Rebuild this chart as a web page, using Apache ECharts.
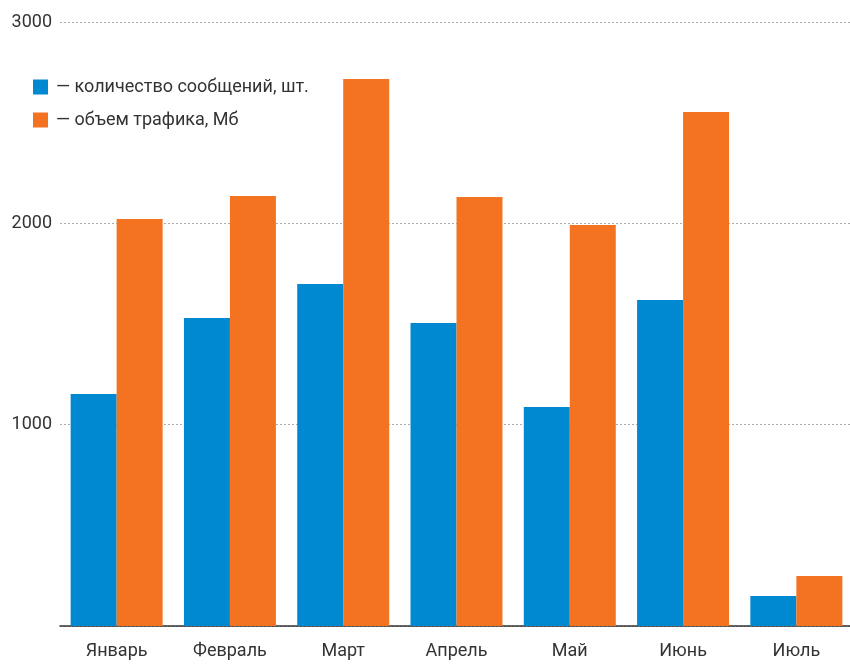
<!DOCTYPE html>
<html>
<head>
<meta charset="utf-8">
<script src="https://cdn.jsdelivr.net/npm/echarts@6/dist/echarts.min.js"></script>
<style>html,body{margin:0;padding:0;background:#fff}#c{width:850px;height:668px}</style>
</head>
<body>
<div id="c"></div>
<script>
const categories = ['Январь','Февраль','Март','Апрель','Май','Июнь','Июль'];
const seriesNames = ['количество сообщений, шт.','объем трафика, Мб'];
const messages = [1152, 1530, 1699, 1505, 1088, 1619, 149];
const traffic = [2022, 2136, 2717, 2131, 1992, 2553, 248];
const yTicks = [0, 1000, 2000, 3000];

const FONT = "'Roboto', 'Liberation Sans Narrow', sans-serif";
const chart = echarts.init(document.getElementById('c'));
chart.setOption({
  animation: false,
  textStyle: { fontFamily: FONT },
  grid: { left: 60, width: 793, top: 22, bottom: 42, outerBoundsMode: 'none' },
  legend: {
    orient: 'vertical', left: 33, top: 78, padding: 0,
    icon: 'rect', itemWidth: 15, itemHeight: 15, itemGap: 15,
    formatter: n => '— ' + n,
    textStyle: { fontFamily: FONT, fontSize: 18, color: '#333', padding: [0,0,0,3] },
    data: seriesNames
  },
  xAxis: {
    type: 'category', data: categories,
    axisLine: { show: true, lineStyle: { color: '#333', width: 1.5 } },
    axisTick: { show: false },
    axisLabel: { fontFamily: FONT, fontSize: 18, color: '#333', margin: 16 }
  },
  yAxis: {
    type: 'value', min: yTicks[0], max: yTicks[yTicks.length-1], interval: 1000,
    axisLine: { show: false }, axisTick: { show: false },
    axisLabel: { fontFamily: FONT, fontSize: 18, color: '#333', margin: 8,
      formatter: v => v === 0 ? '' : String(v) },
    splitLine: { show: true, lineStyle: { color: '#aaa', type: [2, 2], width: 1 } }
  },
  series: [
    { name: seriesNames[0], type: 'bar', data: messages, itemStyle: { color: '#0088d1' },
      barGap: '0%', barCategoryGap: '18.8%' },
    { name: seriesNames[1], type: 'bar', data: traffic, itemStyle: { color: '#f37321' },
      barGap: '0%', barCategoryGap: '18.8%' }
  ]
});
</script>
</body>
</html>
